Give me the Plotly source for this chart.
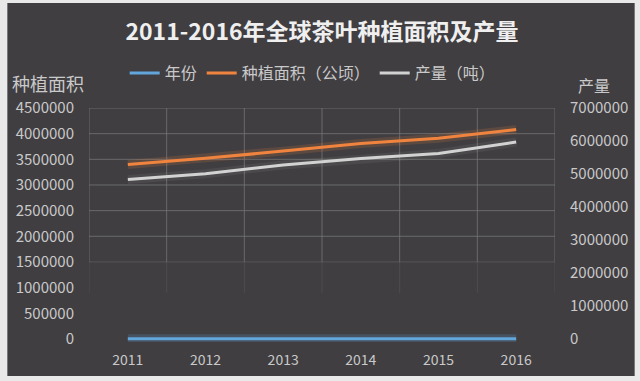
import plotly.graph_objects as go

years = ["2011", "2012", "2013", "2014", "2015", "2016"]
year_values = [2011, 2012, 2013, 2014, 2015, 2016]
area_ha = [3400000, 3520000, 3660000, 3810000, 3910000, 4080000]
output_t = [4830000, 5010000, 5270000, 5470000, 5620000, 5970000]

left_ticks = [0, 500000, 1000000, 1500000, 2000000, 2500000, 3000000, 3500000, 4000000, 4500000]
right_ticks = [0, 1000000, 2000000, 3000000, 4000000, 5000000, 6000000, 7000000]

title_text = "2011-2016年全球茶叶种植面积及产量"
left_title = "种植面积"
right_title = "产量"
names = ["年份", "种植面积（公顷）", "产量（吨）"]

BG = "#403e41"
TXT = "#c9c9c9"
GRID = "rgba(120,120,120,0.75)"
FONT = "Noto Sans CJK SC"

c_blue = "#62a6dc"
c_orange = "#f0843e"
c_gray = "#d2d2d2"

fig = go.Figure()

# soft glow traces
for vals, col, ax in [(year_values, "rgba(98,166,220,0.2)", "y"),
                      (area_ha, "rgba(240,132,62,0.16)", "y"),
                      (output_t, "rgba(200,200,200,0.08)", "y2")]:
    fig.add_trace(go.Scatter(x=years, y=vals, mode="lines", yaxis=ax,
                             line=dict(color=col, width=9), showlegend=False,
                             hoverinfo="skip"))

fig.add_trace(go.Scatter(x=years, y=year_values, mode="lines", name=names[0],
                         line=dict(color=c_blue, width=3), yaxis="y"))
fig.add_trace(go.Scatter(x=years, y=area_ha, mode="lines", name=names[1],
                         line=dict(color=c_orange, width=3), yaxis="y"))
fig.add_trace(go.Scatter(x=years, y=output_t, mode="lines", name=names[2],
                         line=dict(color=c_gray, width=3), yaxis="y2"))

W, H = 640, 381
L, R, T, B = 89, 83, 108, 39
pw, ph = W - L - R, H - T - B
def px_x(p):
    return (p - L) / pw
def px_y(p):
    return (H - B - p) / ph

top = left_ticks[-1]
pad = 60000  # small headroom below zero so the zero line is not clipped
y1_range = [-pad, top]
y2_range = [-pad * right_ticks[-1] / top, right_ticks[-1]]

shapes = [dict(type="rect", xref="paper", yref="paper", layer="below",
               x0=px_x(7), x1=px_x(637), y0=px_y(376), y1=px_y(3),
               fillcolor=BG, line=dict(width=0))]

for t in left_ticks:
    if t >= 1500000:
        shapes.append(dict(type="line", xref="x", yref="y", layer="below",
                           x0=-0.5, x1=len(years) - 0.5, y0=t, y1=t,
                           line=dict(color=GRID if t > 1500000 else "rgba(110,110,110,0.45)", width=1)))
for i in range(len(years) + 1):
    xv = i - 0.5
    shapes.append(dict(type="line", xref="x", yref="y", layer="below",
                       x0=xv, x1=xv, y0=1500000, y1=top,
                       line=dict(color=GRID, width=1)))
    shapes.append(dict(type="line", xref="x", yref="y", layer="below",
                       x0=xv, x1=xv, y0=900000, y1=1500000,
                       line=dict(color="rgba(110,110,110,0.3)", width=1)))

fig.update_layout(
    width=W, height=H,
    margin=dict(l=L, r=R, t=T, b=B),
    paper_bgcolor="#e9e9e9",
    plot_bgcolor="rgba(0,0,0,0)",
    font=dict(family=FONT, color=TXT, size=14),
    title=dict(text="<b>" + title_text + "</b>", x=0.5, xref="paper", xanchor="center",
               y=1 - 32 / H, yanchor="middle", yref="container",
               font=dict(family=FONT, size=23, color="#efefef")),
    showlegend=True,
    legend=dict(orientation="h", x=0.48, xanchor="center", y=px_y(73), yanchor="middle",
                font=dict(family=FONT, size=16, color=TXT), bgcolor="rgba(0,0,0,0)",
                itemwidth=30, traceorder="normal"),
    xaxis=dict(type="category", range=[-0.5, len(years) - 0.5], showgrid=False,
               zeroline=False, showline=False, ticks="", tickfont=dict(size=14, color=TXT),
               ticklabelstandoff=8),
    yaxis=dict(range=y1_range, tickvals=left_ticks, tickformat="d", showgrid=False,
               zeroline=False, showline=False, ticks="", tickfont=dict(size=15, color=TXT),
               ticklabelstandoff=14),
    yaxis2=dict(range=y2_range, tickvals=right_ticks, tickformat="d",
                overlaying="y", side="right", showgrid=False, zeroline=False,
                showline=False, ticks="", tickfont=dict(size=15, color=TXT),
                ticklabelstandoff=14),
    shapes=shapes,
    annotations=[
        dict(text=left_title, xref="paper", yref="paper", x=px_x(48), y=px_y(83),
             xanchor="center", yanchor="middle", showarrow=False,
             font=dict(family=FONT, size=18, color=TXT)),
        dict(text=right_title, xref="paper", yref="paper", x=px_x(596), y=px_y(85),
             xanchor="center", yanchor="middle", showarrow=False,
             font=dict(family=FONT, size=16, color=TXT)),
    ],
)

fig.write_html("out.html", config={"displayModeBar": False},
               post_script="document.body.style.margin='0px';document.body.style.overflow='hidden';")
